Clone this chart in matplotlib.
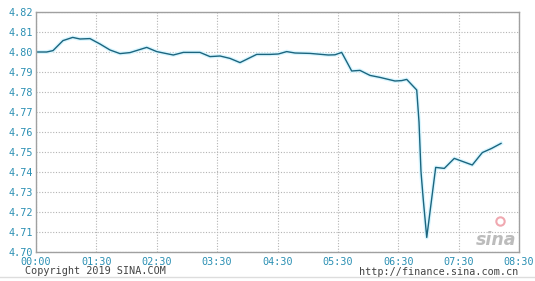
import matplotlib
matplotlib.use('Agg')
from matplotlib import pyplot as plt

# 数据: x 为刻度序号位置 (0 = 00:00, 8 = 08:30)
tick_labels = ['00:00', '01:30', '02:30', '03:30', '04:30', '05:30', '06:30', '07:30', '08:30']
y_ticks = [4.70, 4.71, 4.72, 4.73, 4.74, 4.75, 4.76, 4.77, 4.78, 4.79, 4.80, 4.81, 4.82]

xs = [0.00, 0.177, 0.282, 0.447, 0.608, 0.729, 0.894, 1.060, 1.226, 1.391,
      1.557, 1.834, 1.999, 2.274, 2.440, 2.716, 2.882, 3.048, 3.213, 3.379,
      3.655, 3.876, 4.013, 4.152, 4.290, 4.538, 4.841, 4.952, 5.063, 5.229,
      5.366, 5.532, 5.698, 5.946, 6.057, 6.140, 6.306, 6.344, 6.377, 6.415,
      6.472, 6.620, 6.763, 6.928, 7.226, 7.392, 7.547, 7.702]
price = [4.8000, 4.8000, 4.8007, 4.8057, 4.8073, 4.8065, 4.8067, 4.8040, 4.8010, 4.7992,
         4.7997, 4.8023, 4.8002, 4.7985, 4.7998, 4.7998, 4.7977, 4.7980, 4.7968, 4.7947,
         4.7988, 4.7988, 4.7990, 4.8002, 4.7995, 4.7993, 4.7985, 4.7986, 4.7998, 4.7905,
         4.7908, 4.7883, 4.7873, 4.7855, 4.7857, 4.7863, 4.7810, 4.7650, 4.7400, 4.7260,
         4.7073, 4.7423, 4.7418, 4.7468, 4.7435, 4.7497, 4.7518, 4.7543]

lab_color = '#2a8fb3'
mono = 'DejaVu Sans Mono'

fig = plt.figure(figsize=(5.35, 2.81), dpi=100)
ax = fig.add_axes([36/535, 29/281, 483/535, 240/281])

ax.plot(xs, price, color='#d8f6ff', lw=2.8, solid_joinstyle='round')
ax.plot(xs, price, color='#1b657f', lw=1.0)

ax.set_xlim(0, 8)
ax.set_ylim(4.70, 4.82)
ax.set_xticks(range(len(tick_labels)))
ax.set_xticklabels(tick_labels)
ax.set_yticks(y_ticks)
ax.set_yticklabels(['%.2f' % v for v in y_ticks])
ax.tick_params(length=0, labelsize=7.3, labelcolor=lab_color)
ax.tick_params(axis='x', pad=3.5)
ax.tick_params(axis='y', pad=2)
for t in ax.get_xticklabels() + ax.get_yticklabels():
    t.set_family(mono)
ax.grid(True, color='#b4b4b4', linestyle=(0, (1, 1.5)), lw=0.8)
for s in ax.spines.values():
    s.set_color('#a0a0a0')
    s.set_linewidth(1.0)

# sina 水印
ax.text(7.95, 4.7015, 'sina', fontsize=12.5, fontweight='bold', style='italic',
        color='#bcbcbc', ha='right', va='bottom', family='DejaVu Sans')
ax.plot([7.68], [4.7155], 'o', ms=6, mfc='none', mec='#f0a8b0', mew=1.5)

fig.text(25/535, 1 - 271/281, 'Copyright 2019 SINA.COM', fontsize=7.3,
         family=mono, color='#444444', va='center', ha='left')
fig.text(518/535, 1 - 272/281, 'http://finance.sina.com.cn', fontsize=7.3,
         family=mono, color='#444444', va='center', ha='right')
fig.add_artist(plt.Line2D([0, 1], [1 - 277/281] * 2, color='#dddddd', lw=1))

plt.savefig('out.png', dpi=100)
